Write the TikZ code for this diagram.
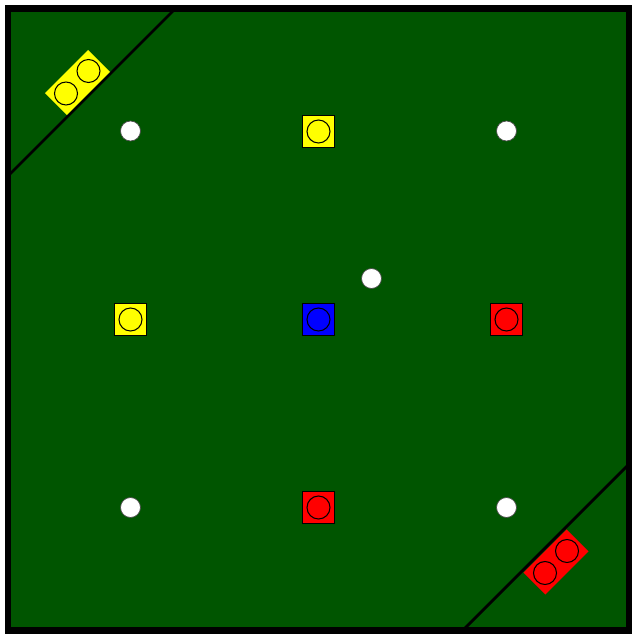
\documentclass[tikz,border=0pt]{standalone}
\usepackage{xcolor}
\definecolor{fieldgreen}{HTML}{005500}
\definecolor{tokyellow}{HTML}{FFFF00}
\definecolor{tokred}{HTML}{FF0000}
\definecolor{tokblue}{HTML}{0000FF}
\usepackage{tikz}
\usetikzlibrary{positioning}
\tikzset{
    board_field/.style={fill=fieldgreen},
    board_frame/.style={draw=black, line width=3.7pt},
    board_cut/.style={draw=black, line width=1.6pt},
    board_tile/.style={draw=black, line width=0.8pt, minimum size=0.64cm, inner sep=0pt},
    board_ring/.style={circle, draw=black, line width=0.6pt, minimum size=0.46cm, inner sep=0pt},
    board_bar/.style={draw=none, minimum width=1.22cm, minimum height=0.62cm, inner sep=0pt, rotate=45},
    board_ball/.style={circle, draw=black!70, fill=white, line width=0.4pt, minimum size=0.4cm, inner sep=0pt}
}

\begin{document}
\begin{tikzpicture}[x=0.02cm, y=-0.02cm]
\useasboundingbox (0,0) rectangle (631,634);
% field
\fill[board_field] (8,8.5) rectangle (629,630.5);
\coordinate (cut_tl_a) at (175.5,8.5);
\coordinate (cut_tl_b) at (8,176);
\coordinate (cut_br_a) at (629,464);
\coordinate (cut_br_b) at (462.5,630.5);
\draw[board_cut] (cut_tl_a) -- (cut_tl_b);
\draw[board_cut] (cut_br_a) -- (cut_br_b);
\draw[board_frame] (8,8.5) rectangle (629,630.5);

% corner bars
\node[board_bar, fill=tokyellow] (bar_yellow) at (77.5,82.5) {};
\node[board_ring, fill=tokyellow] (bar_yellow_a) at (66,93.5) {};
\node[board_ring, fill=tokyellow] (bar_yellow_b) at (88.5,71) {};
\node[board_bar, fill=tokred] (bar_red) at (556,562) {};
\node[board_ring, fill=tokred] (bar_red_a) at (545,573) {};
\node[board_ring, fill=tokred] (bar_red_b) at (567,551) {};

% tiles
\node[board_tile, fill=tokyellow] (tile_top) at (318.5,131.5) {};
\node[board_tile, fill=tokyellow] (tile_left) at (130.5,319.5) {};
\node[board_tile, fill=tokblue] (tile_mid) at (318.5,319.5) {};
\node[board_tile, fill=tokred] (tile_right) at (506.5,319.5) {};
\node[board_tile, fill=tokred] (tile_bottom) at (318.5,507.5) {};
\foreach \t/\c in {tile_top/tokyellow, tile_left/tokyellow, tile_mid/tokblue, tile_right/tokred, tile_bottom/tokred}
    \node[board_ring, fill=\c] at (\t) {};

% balls
\node[board_ball] (ball_nw) at (130.5,131) {};
\node[board_ball] (ball_ne) at (506.5,131) {};
\node[board_ball] (ball_c) at (371.5,278.5) {};
\node[board_ball] (ball_sw) at (130.5,507.5) {};
\node[board_ball] (ball_se) at (506.5,507.5) {};
\end{tikzpicture}
\end{document}
